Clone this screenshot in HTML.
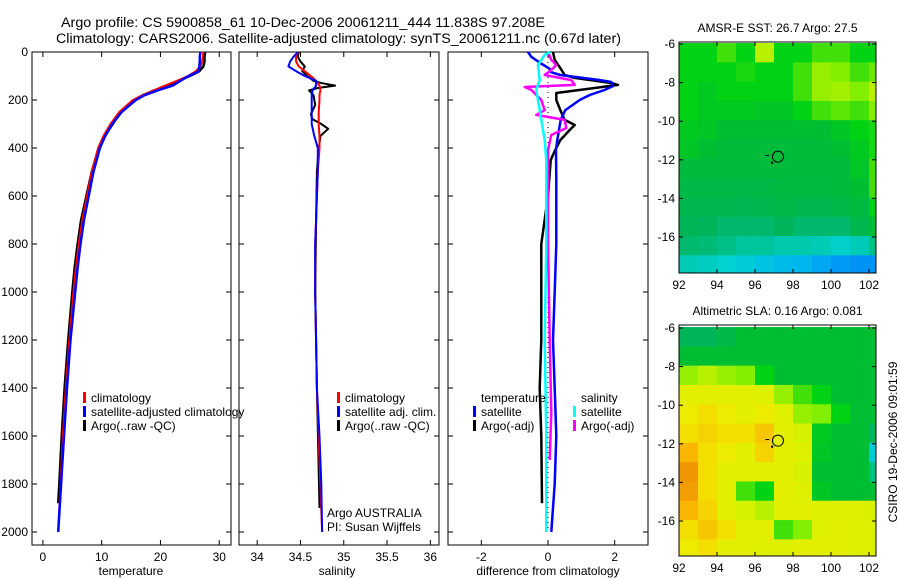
<!DOCTYPE html>
<html><head><meta charset="utf-8"><style>
html,body{margin:0;padding:0;background:#fff}
svg{display:block;font-family:"Liberation Sans",sans-serif}
</style></head><body>
<svg id="fig" width="900" height="580" viewBox="0 0 900 580" xmlns="http://www.w3.org/2000/svg">
<rect width="900" height="580" fill="#fff"/>
<text x="61" y="27" font-size="13.5" textLength="484" lengthAdjust="spacingAndGlyphs">Argo profile: CS 5900858_61 10-Dec-2006 20061211_444 11.838S 97.208E</text>
<text x="56" y="43" font-size="13.5" textLength="565" lengthAdjust="spacingAndGlyphs">Climatology: CARS2006. Satellite-adjusted climatology: synTS_20061211.nc (0.67d later)</text>
<g id="g"></g>
</svg>
<script>
// ---------- data ----------
const depthsT = [0,20,40,60,80,100,120,140,160,180,200,250,300,350,400,500,600,700,800,900,1000,1200,1400,1600,1800,2000];
const tempClim = [27.3,27.2,27.1,26.8,26,24.7,22.8,20.8,18.8,17,15.3,13,11.5,10.3,9.4,8.3,7.5,6.7,6.1,5.6,5.2,4.5,3.9,3.4,3.0,2.6];
const tempSatClim = [26.8,26.7,26.7,26.6,26.5,24.8,23.4,22.1,19.5,17.3,15.8,13.4,11.8,10.6,9.7,8.6,7.8,7.0,6.4,5.9,5.5,4.7,4.1,3.6,3.1,2.6];
const depthsArgo = [0,20,40,60,80,100,120,140,160,180,200,250,300,350,400,500,600,700,800,900,1000,1200,1400,1600,1800,1880];
const tempArgo = [27.6,27.5,27.5,27.3,26.6,25,23,21.5,19,17,15.5,13.2,11.9,10.5,9.5,8.3,7.4,6.5,5.9,5.4,5.0,4.3,3.7,3.2,2.8,2.6];

const salClim = [34.47,34.45,34.45,34.48,34.55,34.62,34.68,34.72,34.73,34.72,34.72,34.71,34.71,34.72,34.72,34.7,34.69,34.68,34.67,34.67,34.67,34.68,34.69,34.71,34.73,34.75];
const salSatClim = [34.47,34.42,34.38,34.36,34.45,34.55,34.68,34.68,34.64,34.63,34.63,34.63,34.63,34.66,34.7,34.7,34.69,34.68,34.67,34.67,34.67,34.68,34.69,34.72,34.74,34.75];
const depthsSalArgo = [0,20,40,60,80,100,120,130,140,150,160,180,200,220,260,280,300,320,350,380,400,500,700,1000,1400,1900];
const salArgo = [34.48,34.47,34.5,34.55,34.52,34.58,34.65,34.75,34.9,34.7,34.6,34.65,34.66,34.67,34.62,34.64,34.74,34.82,34.73,34.72,34.71,34.69,34.68,34.67,34.69,34.72];

const dTempSatDepth = [0,20,46,70,83,96,117,125,142,158,179,200,242,283,367,408,533,800,1000,1200,1400,1600,1800,2000];
const dTempSat = [-0.6,-0.5,-0.23,0.05,0.07,0.37,1.57,1.9,1.95,1.7,1.25,0.95,0.52,0.38,0.28,0.24,0.25,0.25,0.2,0.15,0.2,0.25,0.2,0.1];
const dTempArgoDepth = [0,33,67,96,108,129,137,150,171,200,242,283,304,325,367,408,450,600,800,1000,1200,1400,1600,1880];
const dTempArgo = [0.15,0.2,0.37,0.5,0.8,1.9,2.1,1.4,0.25,0.25,0.37,0.5,0.8,0.65,0.37,0.22,0.08,0,-0.2,-0.2,-0.2,-0.25,-0.2,-0.18];
const dSalSatDepth = [0,12,54,117,158,242,367,450,800,1200,1600,2000];
const dSalSat = [0.07,-0.1,-0.3,-0.25,-0.35,-0.25,-0.1,-0.05,-0.05,-0.1,-0.05,-0.05];
const dSalArgoDepth = [0,33,54,75,96,117,137,146,158,200,242,262,283,317,346,408,492,800,1200,1500,1700];
const dSalArgo = [0,0.1,0.25,0.1,-0.1,0.7,0.8,-0.7,-0.5,-0.2,-0.1,-0.35,0.5,0.55,0.1,0,0,0,0.05,0.1,0.05];

const depthTicks = [0,200,400,600,800,1000,1200,1400,1600,1800,2000];
const tempTicks = [0,10,20,30];
const salTicks = [34,34.5,35,35.5,36];
const diffTicks = [-2,0,2];
const lonTicks = [92,94,96,98,100,102];
const latTicks = [-6,-8,-10,-12,-14,-16];

const sstGrid = [
[0.5,0.5,0.55,0.5,0.65,0.5,0.5,0.55,0.55,0.5,0.5],
[0.5,0.5,0.5,0.52,0.5,0.5,0.55,0.62,0.6,0.55,0.58],
[0.5,0.48,0.5,0.5,0.5,0.5,0.55,0.62,0.63,0.6,0.65],
[0.5,0.48,0.48,0.48,0.47,0.47,0.5,0.55,0.57,0.55,0.6],
[0.48,0.47,0.45,0.45,0.45,0.45,0.45,0.45,0.47,0.5,0.52],
[0.47,0.45,0.43,0.43,0.43,0.43,0.43,0.43,0.45,0.48,0.52],
[0.42,0.42,0.42,0.42,0.42,0.42,0.42,0.42,0.42,0.47,0.55],
[0.4,0.4,0.4,0.4,0.4,0.41,0.41,0.41,0.42,0.45,0.55],
[0.38,0.38,0.38,0.37,0.38,0.4,0.38,0.38,0.4,0.42,0.5],
[0.36,0.35,0.33,0.33,0.33,0.35,0.33,0.33,0.33,0.38,0.45],
[0.33,0.32,0.3,0.28,0.28,0.26,0.26,0.25,0.23,0.25,0.3],
[0.25,0.24,0.22,0.2,0.17,0.14,0.13,0.1,0.08,0.07,0.07]];
const slaGrid = [
[0.35,0.35,0.4,0.45,0.45,0.45,0.45,0.45,0.45,0.45,0.45],
[0.45,0.45,0.45,0.45,0.45,0.45,0.45,0.45,0.45,0.45,0.45],
[0.62,0.65,0.62,0.6,0.5,0.45,0.45,0.45,0.45,0.45,0.45],
[0.72,0.72,0.72,0.72,0.7,0.62,0.55,0.5,0.45,0.45,0.45],
[0.75,0.78,0.75,0.72,0.75,0.7,0.62,0.6,0.5,0.45,0.45],
[0.78,0.8,0.78,0.78,0.82,0.72,0.68,0.48,0.45,0.45,0.35],
[0.85,0.78,0.75,0.72,0.8,0.72,0.7,0.47,0.45,0.45,0.2],
[0.92,0.78,0.72,0.72,0.72,0.72,0.68,0.45,0.45,0.45,0.3],
[0.9,0.78,0.72,0.55,0.5,0.72,0.7,0.47,0.45,0.45,0.45],
[0.85,0.8,0.72,0.68,0.65,0.72,0.72,0.7,0.7,0.7,0.68],
[0.78,0.82,0.78,0.72,0.72,0.55,0.6,0.7,0.72,0.7,0.7],
[0.75,0.78,0.72,0.72,0.7,0.7,0.72,0.72,0.72,0.7,0.7]];
const argoLon = 97.208, argoLat = -11.838;

// ---------- drawing ----------
const NS="http://www.w3.org/2000/svg";
const G=document.getElementById('g');
function el(t,a,p){const e=document.createElementNS(NS,t);for(const k in a)e.setAttribute(k,a[k]);(p||G).appendChild(e);return e;}
const yTop=52, yBot=545;
const yD = d => 52 + d*0.24;
function panel(x0,x1,vmin,vmax,name){
  const sx = v => x0 + (v-vmin)/(vmax-vmin)*(x1-x0);
  const r=el('rect',{x:x0,y:yTop,width:x1-x0,height:yBot-yTop,fill:'none',stroke:'#000','stroke-width':1});
  
  
  depthTicks.forEach(d=>{el('line',{x1:x0,x2:x0+5,y1:yD(d),y2:yD(d),stroke:'#000'});el('line',{x1:x1,x2:x1-5,y1:yD(d),y2:yD(d),stroke:'#000'});});
  return sx;
}
function line(xs,ds,sx,color,w,name){
  const pts=xs.map((v,i)=>sx(v).toFixed(1)+','+yD(ds[i]).toFixed(1)).join(' ');
  const p=el('polyline',{points:pts,fill:'none',stroke:color,'stroke-width':w,'stroke-linejoin':'round'});
  
  
}
function txt(x,y,s,opt){const t=el('text',Object.assign({x:x,y:y,'font-size':12},opt||{}));t.textContent=s;return t;}
function xticks(sx,ticks,x0){ticks.forEach(v=>{const x=sx(v);el('line',{x1:x,x2:x,y1:yBot,y2:yBot-5,stroke:'#000'});el('line',{x1:x,x2:x,y1:yTop,y2:yTop+5,stroke:'#000'});
  const t=txt(x,561,String(v),{'text-anchor':'middle'});});}

// panel 1 temperature
const sT=panel(32,231,-1.85,32,'temperature-panel');
depthTicks.forEach(d=>{const t=txt(28,yD(d)+4,String(d),{'text-anchor':'end'});});
xticks(sT,tempTicks);
line(tempArgo,depthsArgo,sT,'#000',2.5,'temp-argo-line');
line(tempClim,depthsT,sT,'#f00',2,'temp-climatology-line');
line(tempSatClim,depthsT,sT,'#00f',2.5,'temp-satellite-clim-line');
let t=txt(131,575,'temperature',{'text-anchor':'middle'});

// panel 2 salinity
const sS=panel(239,439,33.79,36.1,'salinity-panel');
xticks(sS,salTicks);
line(salArgo,depthsSalArgo,sS,'#000',2,'sal-argo-line');
line(salClim,depthsT,sS,'#f00',2,'sal-climatology-line');
line(salSatClim,depthsT,sS,'#00f',2,'sal-satellite-clim-line');
t=txt(337,575,'salinity',{'text-anchor':'middle'});
t=txt(327,517,'Argo AUSTRALIA');
t=txt(327,531,'PI: Susan Wijffels');

// panel 3 differences
const sD=panel(448,648,-3,3,'difference-panel');
xticks(sD,diffTicks);
el('line',{x1:sD(0),x2:sD(0),y1:yTop,y2:yD(2000),stroke:'#000','stroke-dasharray':'1,4'});
line(dTempArgo,dTempArgoDepth,sD,'#000',2.5,'diff-temp-argo-line');
line(dTempSat,dTempSatDepth,sD,'#00f',2.5,'diff-temp-satellite-line');
line(dSalArgo,dSalArgoDepth,sD,'#f0f',2.5,'diff-sal-argo-line');
line(dSalSat,dSalSatDepth,sD,'#0ff',2.5,'diff-sal-satellite-line');
t=txt(548,575,'difference from climatology',{'text-anchor':'middle'});

// legends
function legItem(x,y,color,label,name){
  el('rect',{x:x,y:y-10,width:3,height:11,fill:color});
  const tt=txt(x+8,y,label);
  
  
}
legItem(83,402,'#f00','climatology','legend-climatology');
legItem(83,416,'#00f','satellite-adjusted climatology','legend-satellite-adjusted');
legItem(83,430,'#000','Argo(..raw -QC)','legend-argo');
legItem(337,402,'#f00','climatology','legend-sal-climatology');
legItem(337,416,'#00f','satellite adj. clim.','legend-sal-satellite');
legItem(337,430,'#000','Argo(..raw -QC)','legend-sal-argo');
t=txt(481,402,'temperature');
legItem(473,416,'#00f','satellite','legend-diff-temp-satellite');
legItem(473,430,'#000','Argo(-adj)','legend-diff-temp-argo');
t=txt(581,402,'salinity');
legItem(573,416,'#0ff','satellite','legend-diff-sal-satellite');
legItem(573,430,'#f0f','Argo(-adj)','legend-diff-sal-argo');

// colormap
const stops=[[0,[0,100,255]],[0.12,[0,180,240]],[0.22,[0,210,210]],[0.35,[0,180,90]],[0.45,[0,190,50]],[0.5,[0,210,20]],[0.6,[130,238,0]],[0.68,[215,242,0]],[0.76,[240,235,0]],[0.86,[250,175,0]],[1,[225,115,0]]];
function cmap(v){for(let i=1;i<stops.length;i++){if(v<=stops[i][0]){const a=stops[i-1],b=stops[i],f=(v-a[0])/(b[0]-a[0]);return 'rgb('+a[1].map((c,k)=>Math.round(c+(b[1][k]-c)*f)).join(',')+')';}}return 'rgb(225,115,0)';}

function map(grid,x0,x1,yt,yb,lat6y,lat16y,title,name){
  const sx=lon=>679+(lon-92)*19;
  const ky=(lat16y-lat6y)/10;
  const sy=lat=>lat6y+(-6-lat)*ky;
  const g=el('g',{});
  
  
  grid.forEach((row,r)=>row.forEach((v,c)=>{
    const lx=92+c, la=-6+0.05-r;
    const xa=Math.max(x0,sx(lx)), xb=Math.min(x1,sx(lx+1));
    const ya=Math.max(yt,sy(la)), yb2=Math.min(yb,sy(la-1));
    const cell=el('rect',{x:xa,y:ya,width:xb-xa+0.5,height:yb2-ya+0.5,fill:cmap(v)},g);
    
    
  }));
  el('rect',{x:x0,y:yt,width:x1-x0,height:yb-yt,fill:'none',stroke:'#000'},g);
  lonTicks.forEach(l=>{const x=sx(l);el('line',{x1:x,x2:x,y1:yb,y2:yb-4,stroke:'#000'},g);el('line',{x1:x,x2:x,y1:yt,y2:yt+4,stroke:'#000'},g);
    const tl=txt(x,yb+16,String(l),{'text-anchor':'middle'});});
  latTicks.forEach(l=>{const y=sy(l);el('line',{x1:x0,x2:x0+4,y1:y,y2:y,stroke:'#000'},g);el('line',{x1:x1,x2:x1-4,y1:y,y2:y,stroke:'#000'},g);
    const tl=txt(x0-4,y+4,String(l),{'text-anchor':'end'});});
  const c=el('circle',{cx:sx(argoLon),cy:sy(argoLat),r:5.5,fill:'none',stroke:'#000'},g);
  
  
  el('line',{x1:sx(96.55),x2:sx(96.75),y1:sy(-11.78),y2:sy(-11.78),stroke:'#000'},g);
  el('circle',{cx:sx(96.9),cy:sy(-12.15),r:1.2,fill:'#000'},g);
  const tt=txt((x0+x1)/2,yt-10,title,{'text-anchor':'middle'});
  
  
}
map(sstGrid,679,876,42,273,44,237,'AMSR-E SST: 26.7 Argo: 27.5','sst-map');
map(slaGrid,679,876,325,556,328,521,'Altimetric SLA: 0.16 Argo: 0.081','sla-map');
t=txt(897,442,'CSIRO 19-Dec-2006 09:01:59',{'text-anchor':'middle',transform:'rotate(-90 897 442)'});

</script>
</body></html>
